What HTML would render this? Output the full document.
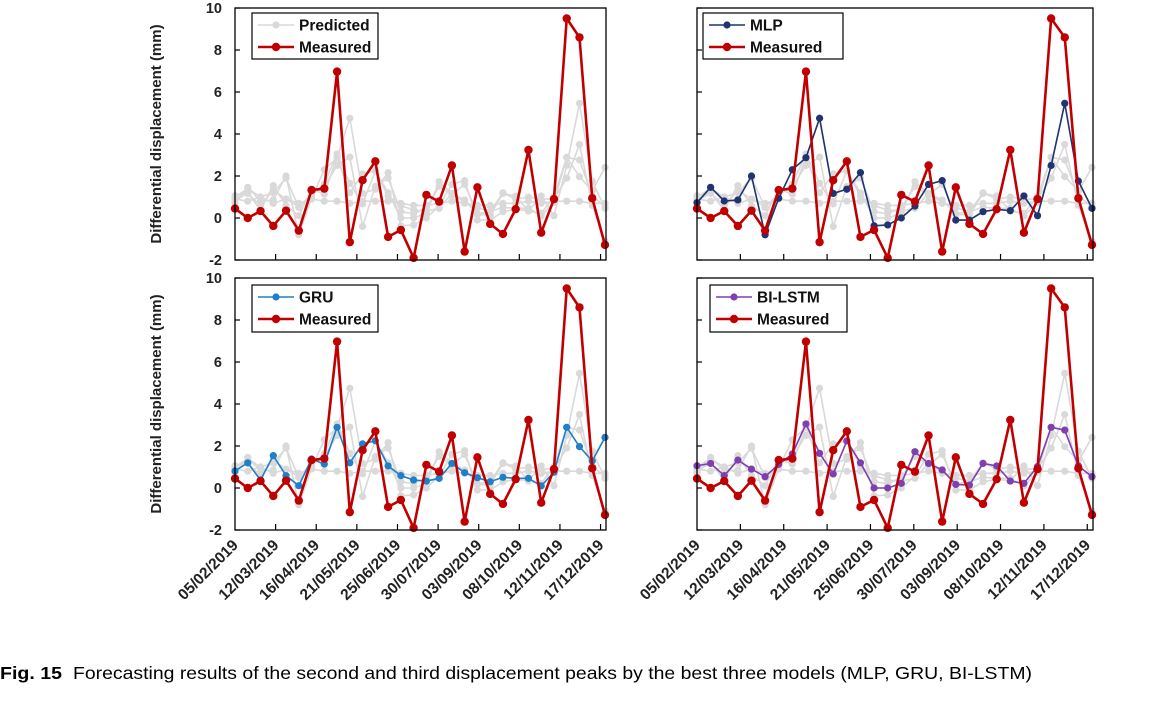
<!DOCTYPE html>
<html><head><meta charset="utf-8"><style>
html,body{margin:0;padding:0;background:#fff;}
svg{display:block;}
text{font-family:"Liberation Sans",Arial,sans-serif;}
</style></head><body>
<svg id="fig" width="1161" height="707" viewBox="0 0 1161 707"></svg>
<script>
const dateLabels=["05/02/2019","12/03/2019","16/04/2019","21/05/2019","25/06/2019","30/07/2019","03/09/2019","08/10/2019","12/11/2019","17/12/2019"];
const yTicks=[-2,0,2,4,6,8,10];
const measured=[0.45,0,0.33,-0.38,0.35,-0.6,1.33,1.4,6.97,-1.15,1.8,2.7,-0.9,-0.57,-1.9,1.1,0.78,2.5,-1.6,1.46,-0.28,-0.76,0.42,3.24,-0.7,0.9,9.5,8.6,0.94,-1.28];
const mlp=[0.73,1.46,0.81,0.86,2.0,-0.8,0.94,2.3,2.87,4.75,1.17,1.37,2.16,-0.37,-0.33,0,0.57,1.6,1.78,-0.1,-0.1,0.3,0.41,0.35,1.05,0.11,2.5,5.46,1.76,0.46];
const gru=[0.81,1.2,0.38,1.54,0.59,0.11,1.38,1.14,2.89,1.2,2.1,2.25,1.05,0.59,0.38,0.33,0.46,1.17,0.73,0.49,0.3,0.51,0.46,0.46,0.1,0.75,2.89,1.97,1.29,2.41];
const bilstm=[1.06,1.17,0.59,1.33,0.9,0.54,1.13,1.62,3.05,1.65,0.67,2.24,1.2,0,0,0.22,1.73,1.17,0.86,0.17,0.14,1.17,1.05,0.33,0.22,1.02,2.89,2.76,1.05,0.54];
const otherA=[0.9,0.8,1.0,0.7,0.9,0.7,0.9,0.8,0.8,0.7,0.8,0.8,0.8,0.7,0.6,0.6,0.7,0.8,0.7,0.6,0.6,0.7,0.7,0.8,0.7,0.8,0.8,0.8,0.7,0.7];
const otherB=[1.0,1.4,1.0,1.2,1.9,0.5,1.1,1.5,2.5,2.9,-0.4,1.5,1.9,0.3,0.2,0.5,1.5,1.1,1.6,0.2,0.3,1.2,0.9,1.0,0.9,0.9,1.9,3.5,0.6,-1.1];
const grayAll=[mlp,gru,bilstm,otherA,otherB];

const NS="http://www.w3.org/2000/svg";
const svg=document.getElementById('fig');
function el(tag,attrs,parent){const e=document.createElementNS(NS,tag);for(const k in attrs)e.setAttribute(k,attrs[k]);(parent||svg).appendChild(e);return e;}

const panels=[
 {id:'tl',x0:235,x1:606,xl:605,top:8,bot:260,model:null,name:'Predicted',color:'#d9d9d9',yl:true,xlab:false,leg:[252,13,126,46]},
 {id:'tr',x0:697,x1:1093,xl:1092,top:8,bot:260,model:mlp,name:'MLP',color:'#1f3470',yl:false,xlab:false,leg:[703,13,140,46]},
 {id:'bl',x0:235,x1:606,xl:605,top:278,bot:530,model:gru,name:'GRU',color:'#1f7fc8',yl:true,xlab:true,leg:[252,285,126,47]},
 {id:'br',x0:697,x1:1093,xl:1092,top:278,bot:530,model:bilstm,name:'BI-LSTM',color:'#7f3fb0',yl:false,xlab:true,leg:[710,285,137,47]}
];

panels.forEach(p=>{
 const g=el('g',{});
 
 
 const ys=v=>p.bot-(v+2)*(p.bot-p.top)/12;
 const xs=i=>p.x0+i*(p.xl-p.x0)/29;
 const tickX=k=>p.x0+k*(p.xl-p.x0)*0.988/9;
 grayAll.forEach((s,si)=>{
  const sg=el('g',{},g);
  
  
  el('polyline',{points:s.map((v,i)=>xs(i)+','+ys(v)).join(' '),fill:'none',stroke:'#d9d9d9','stroke-width':1.6},sg);
  s.forEach((v,i)=>el('circle',{cx:xs(i),cy:ys(v),r:3.6,fill:'#d9d9d9'},sg));
 });
 if(p.model){
  const mg=el('g',{},g);
  
  
  el('polyline',{points:p.model.map((v,i)=>xs(i)+','+ys(v)).join(' '),fill:'none',stroke:p.color,'stroke-width':1.6},mg);
  p.model.forEach((v,i)=>el('circle',{cx:xs(i),cy:ys(v),r:3.6,fill:p.color},mg));
 }
 const rg=el('g',{},g);
 
 
 el('polyline',{points:measured.map((v,i)=>xs(i)+','+ys(v)).join(' '),fill:'none',stroke:'#c00000','stroke-width':2.6,'stroke-linejoin':'round'},rg);
 measured.forEach((v,i)=>el('circle',{cx:xs(i),cy:ys(v),r:4.2,fill:'#c00000'},rg));
 const fr=el('rect',{x:p.x0,y:p.top,width:p.x1-p.x0,height:p.bot-p.top,fill:'none',stroke:'#000','stroke-width':1.3},g);
 
 
 yTicks.forEach(t=>{
  el('line',{x1:p.x0,x2:p.x0+5,y1:ys(t),y2:ys(t),stroke:'#000','stroke-width':1.2},g);
  if(p.yl){
   const tx=el('text',{x:222,y:ys(t)+5,'text-anchor':'end','font-size':14.5,'font-weight':'bold',fill:'#222'},g);
   tx.textContent=t;
   
   
  }
 });
 if(p.yl){
  const cy=(p.top+p.bot)/2;
  const yt=el('text',{x:0,y:0,transform:`translate(161,${cy}) rotate(-90)`,'text-anchor':'middle','font-size':15,'font-weight':'bold',fill:'#222'},g);
  yt.textContent='Differential displacement (mm)';
  
  
 }
 for(let k=1;k<=9;k++){
  el('line',{x1:tickX(k),x2:tickX(k),y1:p.bot,y2:p.bot-6,stroke:'#000','stroke-width':1.2},g);
 }
 if(p.xlab){
  dateLabels.forEach((d,k)=>{
   const x=tickX(k)+4,y=p.bot+16;
   const tx=el('text',{x:0,y:0,transform:`translate(${x},${y}) rotate(-45)`,'text-anchor':'end','font-size':15.5,'font-weight':'bold',fill:'#222'},g);
   tx.textContent=d;
   
   
  });
 }
 const [lx,ly,lw,lh]=p.leg;
 const lg=el('g',{},g);
 
 
 el('rect',{x:lx,y:ly,width:lw,height:lh,fill:'#fff',stroke:'#000','stroke-width':1.2},lg);
 const e1y=ly+12,e2y=ly+34;
 const c1=p.model?p.color:'#d9d9d9';
 el('line',{x1:lx+6,x2:lx+42,y1:e1y,y2:e1y,stroke:c1,'stroke-width':1.6},lg);
 el('circle',{cx:lx+24,cy:e1y,r:3.6,fill:c1},lg);
 const t1=el('text',{x:lx+47,y:e1y+5.5,'font-size':15.5,'font-weight':'bold',fill:'#111'},lg);
 t1.textContent=p.name;
 
 
 el('line',{x1:lx+6,x2:lx+42,y1:e2y,y2:e2y,stroke:'#c00000','stroke-width':2.6},lg);
 el('circle',{cx:lx+24,cy:e2y,r:4.2,fill:'#c00000'},lg);
 const t2=el('text',{x:lx+47,y:e2y+5.5,'font-size':15.5,'font-weight':'bold',fill:'#111'},lg);
 t2.textContent='Measured';
 
 
});

const c1=el('text',{x:0,y:679,'font-size':17.5,'font-weight':'bold',fill:'#000',textLength:62,lengthAdjust:'spacingAndGlyphs'});
c1.textContent='Fig. 15';


const c2=el('text',{x:73,y:679,'font-size':17.5,fill:'#000',textLength:959,lengthAdjust:'spacingAndGlyphs'});
c2.textContent='Forecasting results of the second and third displacement peaks by the best three models (MLP, GRU, BI-LSTM)';


</script>
</body></html>
